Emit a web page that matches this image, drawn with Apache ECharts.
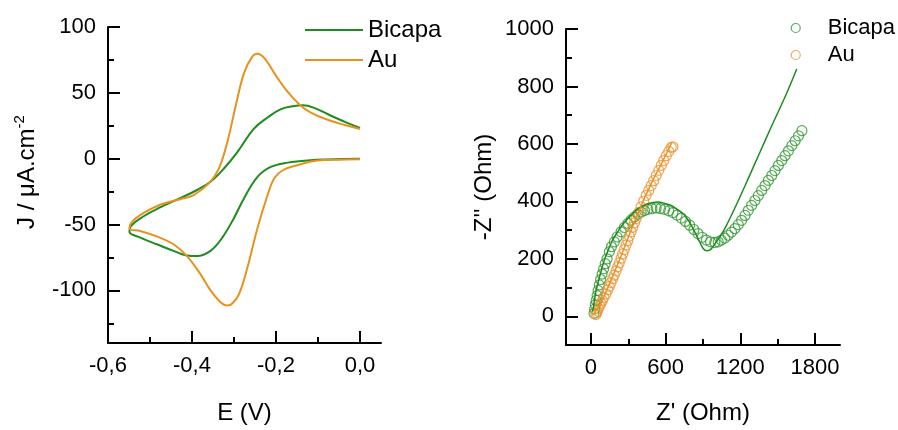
<!DOCTYPE html>
<html><head><meta charset="utf-8">
<script src="https://cdn.jsdelivr.net/npm/echarts@6/dist/echarts.min.js"></script>
<style>html,body{margin:0;padding:0;background:#fff}#c{width:898px;height:430px}</style>
</head><body><div id="c"></div>
<script>
// ---- CV data (E in V, J in µA/cm²) ----
const auCV = [
  [0.0,-0.5],[-0.05,-0.8],[-0.101,-1.3],[-0.149,-5],[-0.184,-8.8],[-0.2045,-15],[-0.22,-27.6],[-0.244,-52.6],
  [-0.268,-82.7],[-0.288,-102.8],[-0.304,-110],[-0.316,-111.5],[-0.332,-109],[-0.356,-100],[-0.38,-87.7],
  [-0.412,-74],[-0.444,-65],[-0.484,-59],[-0.523,-55],[-0.549,-53],
  [-0.543,-48],[-0.516,-41.4],[-0.476,-35],[-0.428,-30.8],[-0.396,-27.6],[-0.36,-18.8],[-0.336,-7.5],
  [-0.316,12.5],[-0.296,40],[-0.276,65.2],[-0.256,77.7],[-0.244,79.7],[-0.228,76.5],[-0.2045,65.2],
  [-0.177,52.6],[-0.145,41.4],[-0.117,35],[-0.077,29.6],[-0.037,25.6],[0.0,22.6]
];
const bicapaCV = [
  [0.0,0],[-0.06,-0.5],[-0.125,-1.3],[-0.172,-3],[-0.2125,-6.3],[-0.244,-13.8],[-0.276,-30],[-0.3,-45],
  [-0.328,-60],[-0.356,-70],[-0.388,-74],[-0.412,-73.5],[-0.444,-70],[-0.484,-65],[-0.523,-60],[-0.549,-55.6],
  [-0.546,-51.4],[-0.516,-43.9],[-0.476,-37],[-0.428,-30],[-0.388,-23.8],[-0.356,-17.5],[-0.324,-7.5],
  [-0.292,5],[-0.253,22.6],[-0.22,31.3],[-0.188,37.6],[-0.156,40],[-0.136,40.6],[-0.109,38.6],
  [-0.069,32.6],[-0.029,27],[0.0,23.3]
];
// ---- EIS data (Z', -Z'' in Ohm) ----
const bicapaEIS = [
  [25,10],[30,25],[35,40],[42,55],[50,72],[58,90],[67,109],[78,128],[90,147],[102,165],[115,183],[130,200],
  [148,225],[165,242],[188,259],[210,276],[242,294],[268,309],[296,323],[322,335],[349,346],[376,355],
  [403,363],[430,368],[457,372],[490,375],[524,377],[558,375],[591,372],[625,367],[659,361],[692,352],
  [726,342],[760,330],[793,317],[827,302],[860,288],[893,275],[927,265],[960,259],[995,257],[1022,259],
  [1048,265],[1075,272],[1102,282],[1129,293],[1156,305],[1183,319],[1210,334],[1237,351],[1264,369],
  [1290,386],[1317,403],[1344,420],[1371,438],[1398,455],[1425,473],[1452,490],[1478,507],[1505,525],
  [1532,542],[1559,559],[1586,576],[1613,594],[1640,611],[1667,628],[1694,646]
];
const auEIS = [
  [40,6],[45,12],[52,18],[60,27],[70,36],[81,45],[92,55],[105,66],[121,78],[135,92],[148,104],[161,117],
  [175,131],[188,143],[202,158],[215,172],[228,186],[242,202],[255,217],[268,232],[282,248],[296,263],
  [309,279],[323,294],[336,310],[350,325],[363,340],[383,361],[403,381],[424,401],[444,421],[464,438],
  [484,455],[504,472],[524,490],[545,508],[565,525],[585,542],[605,559],[625,574],[645,588],[659,590]
];
const bicapaFit = [
  [13,17],[25,45],[40,86],[60,122],[81,156],[105,192],[134,225],[170,262],[215,294],[265,325],[323,352],
  [390,378],[457,392],[538,398],[600,392],[645,386],[700,370],[753,352],[795,325],[833,294],[870,262],
  [901,236],[930,228],[954,230],[980,242],[1008,259],[1040,280],[1075,305],[1170,390],[1264,480],
  [1358,572],[1452,663],[1560,765],[1653,861]
];
const auFit = [
  [15,5],[40,18],[81,45],[121,85],[161,125],[242,210],[323,300],[403,385],[484,462],[565,530],[650,605]
];
// ---- ticks ----
const cvXTicks = [-0.6,-0.4,-0.2,0.0];
const cvXMinor = [-0.5,-0.3,-0.1];
const cvYTicks = [-100,-50,0,50,100];
const cvYMinor = [-125,-75,-25,25,75];
const eisXTicks = [0,600,1200,1800];
const eisXMinor = [300,900,1500];
const eisYTicks = [0,200,400,600,800,1000];
const eisYMinor = [100,300,500,700,900];

const GREEN = '#1e8c1e', ORANGE = '#e8921e';
const GREEN2 = '#2f962f', ORANGE2 = '#ec9234';
const FONT = 'Liberation Sans, Arial, sans-serif';

function majorAxis(gridIndex, min, max, ticks, fmt, extra) {
  return Object.assign({
    type: 'value', gridIndex, min, max, scale: false,
    axisLine: {show: true, onZero: false, lineStyle: {color: '#000', width: 2}},
    axisTick: {show: true, inside: true, length: 12, customValues: ticks, lineStyle: {color: '#000', width: 2}},
    axisLabel: {show: true, customValues: ticks, formatter: fmt, color: '#000', fontSize: 22, fontFamily: FONT, margin: 12},
    splitLine: {show: false}
  }, extra || {});
}
function minorAxis(gridIndex, min, max, ticks, position) {
  return {
    type: 'value', gridIndex, min, max, position,
    axisLine: {show: false, onZero: false},
    axisTick: {show: true, inside: true, length: 6, customValues: ticks, lineStyle: {color: '#000', width: 2}},
    axisLabel: {show: false},
    splitLine: {show: false}
  };
}
const nameStyle = {color: '#000', fontSize: 24, fontFamily: FONT};
const cvFmt = v => v.toFixed(1).replace('.', ',');
const intFmt = v => String(Math.round(v));

const chart = echarts.init(document.getElementById('c'));
chart.setOption({
  animation: false,
  backgroundColor: '#fff',
  grid: [
    {left: 108, top: 27, width: 273, height: 319},
    {left: 566, top: 29, width: 274, height: 319}
  ],
  legend: [
    {
      orient: 'vertical', left: 305, top: 18, padding: 0, itemWidth: 58, itemHeight: 2, itemGap: 6,
      textStyle: {color: '#000', fontSize: 24, fontFamily: FONT, lineHeight: 24},
      data: [
        {name: 'Bicapa', icon: 'rect', itemStyle: {color: GREEN}},
        {name: 'Au', icon: 'rect', itemStyle: {color: ORANGE}}
      ]
    },
    {
      orient: 'vertical', right: 3, top: 17, padding: 0, itemWidth: 54, itemHeight: 9, itemGap: 5,
      textStyle: {color: '#000', fontSize: 22, fontFamily: FONT, lineHeight: 22},
      formatter: n => n.replace(' EIS', ''),
      data: [
        {name: 'Bicapa EIS', icon: 'circle', itemStyle: {color: 'rgba(0,0,0,0)', borderColor: GREEN2, borderWidth: 1.2}},
        {name: 'Au EIS', icon: 'circle', itemStyle: {color: 'rgba(0,0,0,0)', borderColor: ORANGE2, borderWidth: 1.2}}
      ]
    }
  ],
  xAxis: [
    majorAxis(0, -0.6, 0.05, cvXTicks, cvFmt, {position: 'bottom', name: 'E (V)', nameLocation: 'middle', nameGap: 58, nameTextStyle: nameStyle}),
    minorAxis(0, -0.6, 0.05, cvXMinor, 'bottom'),
    majorAxis(1, -200, 2000, eisXTicks, intFmt, {position: 'bottom', name: "Z' (Ohm)", nameLocation: 'middle', nameGap: 56, nameTextStyle: nameStyle}),
    minorAxis(1, -200, 2000, eisXMinor, 'bottom')
  ],
  yAxis: [
    majorAxis(0, -140, 100, cvYTicks, intFmt, {
      position: 'left', name: '{a|J / μA.cm}{b|-2}', nameLocation: 'middle', nameGap: 66,
      nameTextStyle: {color: '#000', fontFamily: FONT, padding: [0, 0, 0, 26],
        rich: {a: {fontSize: 24, fontFamily: FONT, color: '#000', lineHeight: 30},
               b: {fontSize: 15, fontFamily: FONT, color: '#000', lineHeight: 16, verticalAlign: 'top'}}}
    }),
    minorAxis(0, -140, 100, cvYMinor, 'left'),
    majorAxis(1, -100, 1000, eisYTicks, intFmt, {position: 'left', name: "-Z'' (Ohm)", nameLocation: 'middle', nameGap: 70, nameTextStyle: nameStyle}),
    minorAxis(1, -100, 1000, eisYMinor, 'left')
  ],
  series: [
    {name: 'Bicapa', type: 'line', xAxisIndex: 0, yAxisIndex: 0, data: bicapaCV, smooth: 0.4, symbol: 'none',
     lineStyle: {color: GREEN, width: 2}, itemStyle: {color: GREEN}},
    {name: 'Au', type: 'line', xAxisIndex: 0, yAxisIndex: 0, data: auCV, smooth: 0.4, symbol: 'none',
     lineStyle: {color: ORANGE, width: 2}, itemStyle: {color: ORANGE}},
    {name: 'Bicapa EIS', type: 'scatter', xAxisIndex: 2, yAxisIndex: 2, data: bicapaEIS, symbol: 'circle', symbolSize: 10,
     itemStyle: {color: 'rgba(0,0,0,0)', borderColor: GREEN2, borderWidth: 1.2}},
    {name: 'Au EIS', type: 'scatter', xAxisIndex: 2, yAxisIndex: 2, data: auEIS, symbol: 'circle', symbolSize: 10,
     itemStyle: {color: 'rgba(0,0,0,0)', borderColor: ORANGE2, borderWidth: 1.2}},
    {name: 'Bicapa fit', type: 'line', xAxisIndex: 2, yAxisIndex: 2, data: bicapaFit, smooth: 0.3, symbol: 'none',
     lineStyle: {color: GREEN, width: 1.5}},
    {name: 'Au fit', type: 'line', xAxisIndex: 2, yAxisIndex: 2, data: auFit, smooth: 0.3, symbol: 'none',
     lineStyle: {color: ORANGE, width: 1.5}}
  ]
});
</script></body></html>
